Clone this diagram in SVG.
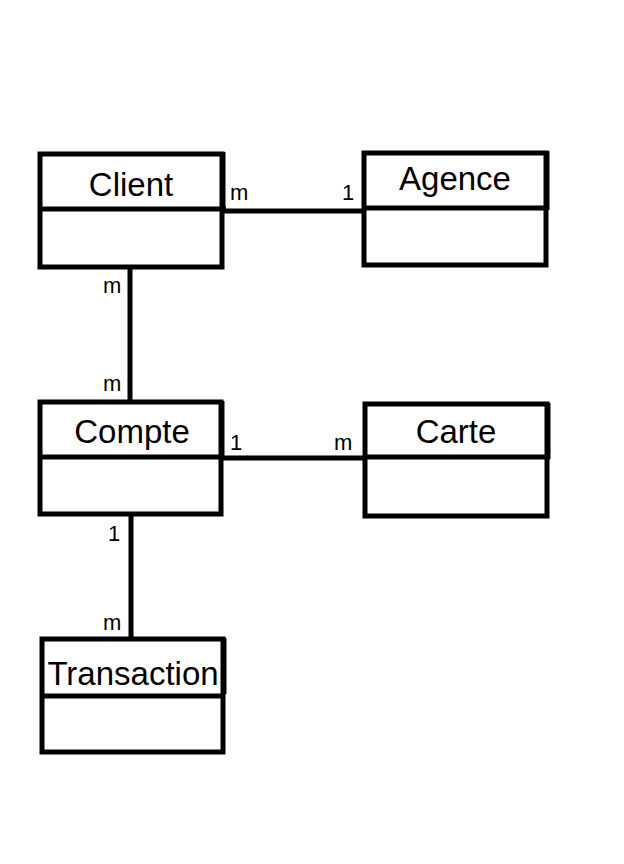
<svg xmlns="http://www.w3.org/2000/svg" width="624" height="864" viewBox="0 0 624 864">
<style>
.box{fill:#fff;stroke:#000;stroke-width:5}
.ln{stroke:#000;stroke-width:5;fill:none}
.t{font-family:"Liberation Sans",Arial,sans-serif;font-size:33px;fill:#000;text-anchor:middle}
.lb{font-family:"Liberation Sans",Arial,sans-serif;font-size:22px;fill:#000}
</style>
<rect width="624" height="864" fill="#fff"/>
<g id="connectors">
<line class="ln" x1="222" y1="211" x2="364" y2="211"/>
<line class="ln" x1="130" y1="267" x2="130" y2="401"/>
<line class="ln" x1="222" y1="458" x2="364" y2="458"/>
<line class="ln" x1="131" y1="515" x2="131" y2="638"/>
<text class="lb" x="230" y="200">m</text>
<text class="lb" x="342" y="200">1</text>
<text class="lb" x="103" y="293">m</text>
<text class="lb" x="103" y="391">m</text>
<text class="lb" x="230" y="450">1</text>
<text class="lb" x="334" y="450">m</text>
<text class="lb" x="108" y="541">1</text>
<text class="lb" x="103" y="630">m</text>
</g>
<g id="client">
<rect class="box" x="40" y="154" width="182" height="113"/>
<line class="ln" x1="40" y1="209" x2="226" y2="209"/>
<line class="ln" x1="223" y1="152" x2="223" y2="211"/>
<text class="t" x="131" y="196">Client</text>
</g>
<g id="agence">
<rect class="box" x="364" y="153" width="182" height="112"/>
<line class="ln" x1="364" y1="208" x2="548" y2="208"/>
<line class="ln" x1="547" y1="151" x2="547" y2="210"/>
<text class="t" x="455" y="190">Agence</text>
</g>
<g id="compte">
<rect class="box" x="40" y="402" width="181" height="112"/>
<line class="ln" x1="40" y1="457" x2="224" y2="457"/>
<line class="ln" x1="222" y1="401" x2="222" y2="459"/>
<text class="t" x="132" y="443">Compte</text>
</g>
<g id="carte">
<rect class="box" x="365" y="404" width="182" height="112"/>
<line class="ln" x1="365" y1="457" x2="550" y2="457"/>
<line class="ln" x1="548" y1="403" x2="548" y2="459"/>
<text class="t" x="456" y="443">Carte</text>
</g>
<g id="transaction">
<rect class="box" x="42" y="639" width="181" height="113"/>
<line class="ln" x1="42" y1="696" x2="224" y2="696"/>
<line class="ln" x1="224" y1="638" x2="224" y2="694"/>
<text class="t" x="133" y="685">Transaction</text>
</g>
</svg>
